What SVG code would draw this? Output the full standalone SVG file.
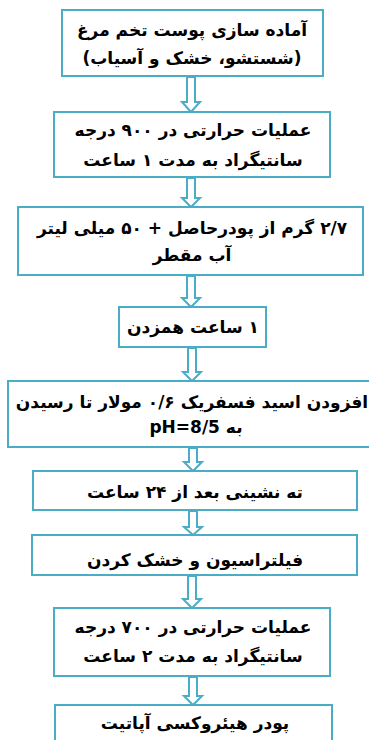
<svg xmlns="http://www.w3.org/2000/svg" width="369" height="740" viewBox="0 0 369 740">
<style>
.box{fill:#fff;stroke:#4BACC6;stroke-width:2}
.arr{fill:#fff;stroke:#4BACC6;stroke-width:2;stroke-linejoin:miter}
text{font-family:"DejaVu Sans",sans-serif;font-weight:bold;font-size:17px;fill:#000;text-anchor:middle;direction:rtl}
</style>
<rect width="369" height="740" fill="#fff"/>
<g id="connectors">
<path class="arr" d="M187,77 V102 H182 L191,112 L200,102 H195 V77 Z"/>
<path class="arr" d="M187,178 V198 H182 L191,207 L200,198 H195 V178 Z"/>
<path class="arr" d="M187,276 V298 H182 L191,307 L200,298 H195 V276 Z"/>
<path class="arr" d="M188,348 V372 H183 L192,381 L201,372 H196 V348 Z"/>
<path class="arr" d="M189,448 V462 H184 L193,471 L202,462 H197 V448 Z"/>
<path class="arr" d="M189,511 V527 H184 L193,535 L202,527 H197 V511 Z"/>
<path class="arr" d="M188,576 V599 H183 L192,608 L201,599 H196 V576 Z"/>
<path class="arr" d="M189,677 V696 H184 L193,705 L202,696 H197 V677 Z"/>
</g>
<g id="n1"><rect class="box" x="62" y="10" width="261" height="66"/>
<text x="192" y="36">آماده سازی پوست تخم مرغ</text>
<text x="192" y="64">(شستشو، خشک و آسیاب)</text></g>
<g id="n2"><rect class="box" x="54" y="112" width="276" height="65"/>
<text x="193" y="136">عملیات حرارتی در ۹۰۰ درجه</text>
<text x="193" y="166">سانتیگراد به مدت ۱ ساعت</text></g>
<g id="n3"><rect class="box" x="18" y="207" width="345" height="68"/>
<text x="192" y="234">۲/۷ گرم از پودرحاصل + ۵۰ میلی لیتر</text>
<text x="192" y="261">آب مقطر</text></g>
<g id="n4"><rect class="box" x="119" y="307" width="147" height="40"/>
<text x="193" y="333">۱ ساعت همزدن</text></g>
<g id="n5"><rect class="box" x="8" y="381" width="370" height="66"/>
<text x="192" y="408">افزودن اسید فسفریک ۰/۶ مولار تا رسیدن</text>
<text x="196" y="433">به pH=8/5</text></g>
<g id="n6"><rect class="box" x="33" y="471" width="324" height="39"/>
<text x="195" y="498">ته نشینی بعد از ۲۴ ساعت</text></g>
<g id="n7"><rect class="box" x="32" y="535" width="325" height="40"/>
<text x="195" y="566">فیلتراسیون و خشک کردن</text></g>
<g id="n8"><rect class="box" x="54" y="608" width="276" height="68"/>
<text x="193" y="633">عملیات حرارتی در ۷۰۰ درجه</text>
<text x="193" y="662">سانتیگراد به مدت ۲ ساعت</text></g>
<g id="n9"><rect class="box" x="55" y="705" width="277" height="50"/>
<text x="195" y="729">پودر هیئروکسی آپاتیت</text></g>
</svg>
